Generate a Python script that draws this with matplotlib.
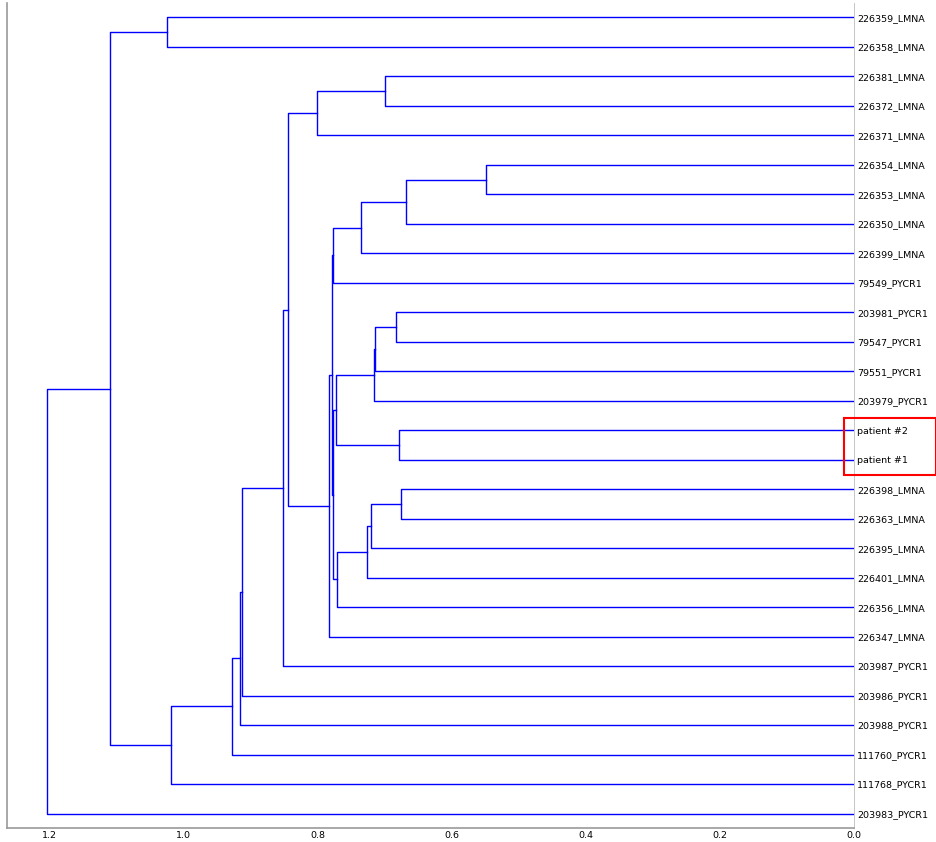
import matplotlib
matplotlib.use("Agg")
import matplotlib.pyplot as plt
from matplotlib.patches import Rectangle

# leaf labels, top to bottom
labels = [
    "226359_LMNA", "226358_LMNA", "226381_LMNA", "226372_LMNA", "226371_LMNA",
    "226354_LMNA", "226353_LMNA", "226350_LMNA", "226399_LMNA", "79549_PYCR1",
    "203981_PYCR1", "79547_PYCR1", "79551_PYCR1", "203979_PYCR1",
    "patient #2", "patient #1",
    "226398_LMNA", "226363_LMNA", "226395_LMNA", "226401_LMNA", "226356_LMNA",
    "226347_LMNA", "203987_PYCR1", "203986_PYCR1", "203988_PYCR1",
    "111760_PYCR1", "111768_PYCR1", "203983_PYCR1",
]
n = len(labels)

# linkage: node n+k joins merge_a[k] and merge_b[k] at distance merge_h[k]
merge_a = [5, 28, 16, 14, 10, 2, 32, 34, 30, 36, 29, 37, 35, 40, 38, 42, 43,
           33, 45, 46, 47, 48, 49, 50, 0, 52, 53]
merge_b = [6, 7, 17, 15, 11, 3, 12, 13, 18, 19, 8, 20, 31, 39, 9, 41, 21,
           4, 44, 22, 23, 24, 25, 26, 1, 51, 27]
merge_h = [0.549, 0.668, 0.676, 0.678, 0.6835, 0.700, 0.715, 0.716, 0.7207,
           0.7258, 0.735, 0.7714, 0.7729, 0.7765, 0.7777, 0.7790, 0.7824,
           0.8012, 0.8443, 0.8522, 0.9125, 0.9155, 0.9279, 1.0183, 1.0247,
           1.1088, 1.2036]

# position of every node: leaves 5, 15, 25 ... from the bottom
pos = {i: 10 * (n - i) - 5 for i in range(n)}
dist = {i: 0.0 for i in range(n)}

fig = plt.figure(figsize=(9.37, 8.42), dpi=100)
ax = fig.add_axes([0.0075, 0.0163, 0.9043, 0.9805])

for k, (a, b, h) in enumerate(zip(merge_a, merge_b, merge_h)):
    ya, yb = pos[a], pos[b]
    ax.plot([dist[a], h, h, dist[b]], [ya, ya, yb, yb], color="b", lw=1.0)
    pos[n + k] = (ya + yb) / 2
    dist[n + k] = h

ax.set_ylim(0, 10 * n)
ax.set_xlim(1.263, 0)
ax.set_xticks([1.2, 1.0, 0.8, 0.6, 0.4, 0.2, 0.0])
ax.set_xticklabels(["1.2", "1.0", "0.8", "0.6", "0.4", "0.2", "0.0"], fontsize=6.8)
ax.yaxis.tick_right()
ax.set_yticks([pos[i] for i in range(n)])
ax.set_yticklabels(labels, fontsize=6.8)
ax.tick_params(axis="both", length=0, pad=2)

ax.spines["top"].set_visible(False)
for s in ("left", "bottom"):
    ax.spines[s].set_color("#999999")
    ax.spines[s].set_linewidth(1.2)
ax.spines["right"].set_color("#bbbbbb")
ax.spines["right"].set_linewidth(0.6)

# red box around the patients
fig.add_artist(Rectangle((0.9005, 0.4359), 0.0985, 0.0673, transform=fig.transFigure,
                         fill=False, edgecolor="red", lw=1.5))

fig.savefig("out.png", dpi=100)
